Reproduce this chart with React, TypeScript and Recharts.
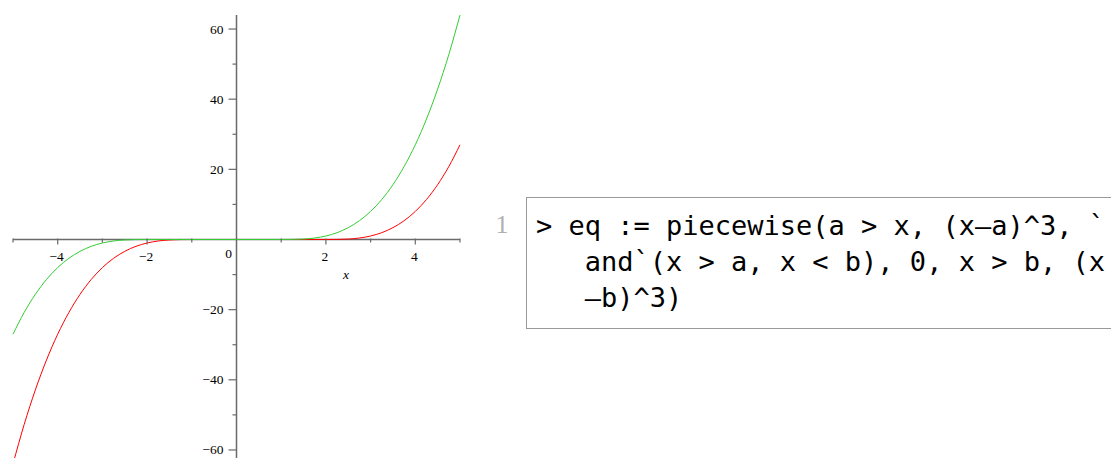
import React from 'react';
import { LineChart, Line, XAxis, YAxis, ReferenceLine, ReferenceDot } from 'recharts';

const xValues = [-5, -4.75, -4.5, -4.25, -4, -3.75, -3.5, -3.25, -3, -2.75, -2.5, -2.25, -2, -1.75, -1.5, -1.25, -1, -0.5, 0, 0.5, 1, 1.25, 1.5, 1.75, 2, 2.25, 2.5, 2.75, 3, 3.25, 3.5, 3.75, 4, 4.25, 4.5, 4.75, 5];
const greenValues = [-27, -20.8, -15.63, -11.39, -8, -5.36, -3.38, -1.95, -1, -0.42, -0.13, -0.02, 0, 0, 0, 0, 0, 0, 0, 0, 0, 0.02, 0.13, 0.42, 1, 1.95, 3.38, 5.36, 8, 11.39, 15.63, 20.8, 27, 34.33, 42.88, 52.73, 64];
const redValues = [-64, -52.73, -42.88, -34.33, -27, -20.8, -15.63, -11.39, -8, -5.36, -3.38, -1.95, -1, -0.42, -0.13, -0.02, 0, 0, 0, 0, 0, 0, 0, 0, 0, 0.02, 0.13, 0.42, 1, 1.95, 3.38, 5.36, 8, 11.39, 15.63, 20.8, 27];

const xMajorTicks = [-4, -2, 2, 4];
const xMinorTicks = [-5, -3, -1, 1, 3, 5];
const yMajorTicks = [-60, -40, -20, 20, 40, 60];
const yMinorTicks = [-50, -30, -10, 10, 30, 50];

const codeLines = ['> eq := piecewise(a > x, (x—a)^3, `', '   and`(x > a, x < b), 0, x > b, (x', '   —b)^3)'];

const data = xValues.map((x, i) => ({ x, green: greenValues[i], red: redValues[i] }));

const AXIS = '#6a6a6a';
const FONT = '"Liberation Serif", "Times New Roman", serif';
const fmt = (v: number) => (v < 0 ? '\u2212' + Math.abs(v) : String(v));

export default function App() {
  return (
    <div style={{ position: 'absolute', left: 0, top: 0, width: 1111, height: 458, overflow: 'hidden', background: '#fff' }}>
      <div style={{ position: 'absolute', left: 0, top: 0 }}>
        <LineChart width={470} height={480} data={data} margin={{ top: 15, right: 10, bottom: 16, left: 13 }}>
          <XAxis type="number" dataKey="x" domain={[-5, 5]} hide />
          <YAxis type="number" domain={[-64, 64]} hide allowDataOverflow />
          <ReferenceLine y={0} stroke={AXIS} strokeWidth={1.5} />
          <ReferenceLine x={0} stroke={AXIS} strokeWidth={1.5} />
          {xMajorTicks.map((t) => (
            <ReferenceDot key={'xM' + t} x={t} y={0} r={0} shape={(p: any) => (
              <g>
                <line x1={p.cx} x2={p.cx} y1={p.cy - 1} y2={p.cy + 5} stroke={AXIS} strokeWidth={1.2} />
                <text x={p.cx - 1} y={p.cy + 21} textAnchor="middle" fontFamily={FONT} fontSize={13.5} fill="#000">{fmt(t)}</text>
              </g>
            )} />
          ))}
          {xMinorTicks.map((t) => (
            <ReferenceDot key={'xm' + t} x={t} y={0} r={0} shape={(p: any) => (
              <line x1={p.cx} x2={p.cx} y1={p.cy - 1} y2={p.cy + 3} stroke={AXIS} strokeWidth={1.2} />
            )} />
          ))}
          {yMajorTicks.map((t) => (
            <ReferenceDot key={'yM' + t} x={0} y={t} r={0} shape={(p: any) => (
              <g>
                <line x1={p.cx - 8} x2={p.cx} y1={p.cy} y2={p.cy} stroke={AXIS} strokeWidth={1.2} />
                <text x={p.cx - 13} y={p.cy + 4.5} textAnchor="end" fontFamily={FONT} fontSize={13.5} fill="#000">{fmt(t)}</text>
              </g>
            )} />
          ))}
          {yMinorTicks.map((t) => (
            <ReferenceDot key={'ym' + t} x={0} y={t} r={0} shape={(p: any) => (
              <line x1={p.cx - 4} x2={p.cx} y1={p.cy} y2={p.cy} stroke={AXIS} strokeWidth={1.2} />
            )} />
          ))}
          <ReferenceDot x={0} y={0} r={0} shape={(p: any) => (
            <text x={p.cx - 8} y={p.cy + 18} textAnchor="middle" fontFamily={FONT} fontSize={13.5} fill="#000">0</text>
          )} />
          <ReferenceDot x={2.45} y={0} r={0} shape={(p: any) => (
            <text x={p.cx} y={p.cy + 39} textAnchor="middle" fontFamily={FONT} fontStyle="italic" fontSize={13.5} fill="#000">x</text>
          )} />
          <Line dataKey="red" type="monotone" stroke="#ff0000" strokeWidth={1} dot={false} isAnimationActive={false} />
          <Line dataKey="green" type="monotone" stroke="#33cc33" strokeWidth={1} dot={false} isAnimationActive={false} />
        </LineChart>
      </div>
      <div style={{ position: 'absolute', left: 490, top: 207, width: 24, textAlign: 'center', fontFamily: FONT, fontSize: 26, lineHeight: '36px', color: '#b0b0b0' }}>1</div>
      <div style={{ position: 'absolute', left: 526, top: 197, width: 620, height: 132, boxSizing: 'border-box', border: '1px solid #999', paddingTop: 10, paddingLeft: 9 }}>
        {codeLines.map((l, i) => (
          <div key={i} style={{ fontFamily: '"DejaVu Sans Mono", monospace', fontSize: 27, lineHeight: '36px', whiteSpace: 'pre', color: '#000' }}>{l}</div>
        ))}
      </div>
    </div>
  );
}
